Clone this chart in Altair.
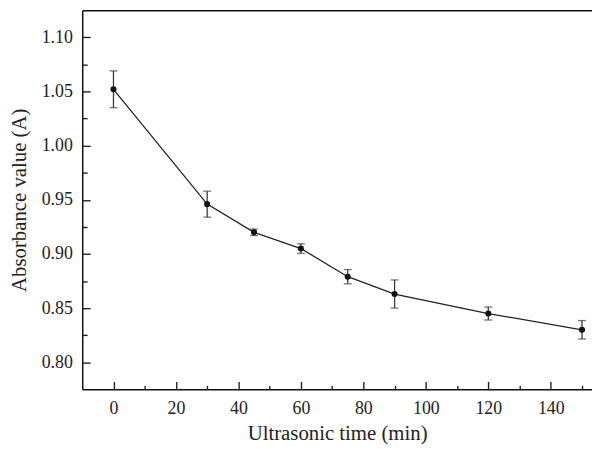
import altair as alt
import pandas as pd

# Data
times = [0, 30, 45, 60, 75, 90, 120, 150]
absorbance = [1.052, 0.946, 0.920, 0.905, 0.879, 0.863, 0.845, 0.830]
errors = [0.017, 0.012, 0.003, 0.0044, 0.0066, 0.013, 0.006, 0.0085]

x_major = [0, 20, 40, 60, 80, 100, 120, 140]
x_minor = [10, 30, 50, 70, 90, 110, 130, 150]
y_major = [0.80, 0.85, 0.90, 0.95, 1.00, 1.05, 1.10]
y_minor = [0.825, 0.875, 0.925, 0.975, 1.025, 1.075]

x_domain = [-10, 153.2]
y_domain = [0.775, 1.125]

df = pd.DataFrame({
    "t": times,
    "a": absorbance,
    "lo": [v - e for v, e in zip(absorbance, errors)],
    "hi": [v + e for v, e in zip(absorbance, errors)],
})

FONT = "Times New Roman"
xs = alt.Scale(domain=x_domain, nice=False, zero=False)
ys = alt.Scale(domain=y_domain, nice=False, zero=False)

base = alt.Chart(df)

# main axes (labels, titles, frame lines)
line = base.mark_line(color="#222", strokeWidth=1.3).encode(
    x=alt.X("t:Q", scale=xs, axis=alt.Axis(
        orient="bottom", values=x_major, format="d", ticks=False, domain=True,
        domainColor="#111", domainWidth=1.5, grid=False,
        labelFont=FONT, labelFontSize=18, labelColor="#222", labelPadding=10,
        title="Ultrasonic time (min)", titleFont=FONT, titleFontSize=21,
        titleFontWeight="normal", titleColor="#222", titlePadding=6)),
    y=alt.Y("a:Q", scale=ys, axis=alt.Axis(
        orient="left", values=y_major, format=".2f", ticks=False, domain=True,
        domainColor="#111", domainWidth=1.5, grid=False,
        labelFont=FONT, labelFontSize=18, labelColor="#222", labelPadding=10,
        title="Absorbance value (A)", titleFont=FONT, titleFontSize=21,
        titleFontWeight="normal", titleColor="#222", titlePadding=12)),
)

errbars = base.mark_errorbar(
    color="#3a3a3a", thickness=1.3,
    ticks={"size": 8, "thickness": 1.3, "color": "#3a3a3a"},
).encode(
    x=alt.X("t:Q", scale=xs, axis=None),
    y=alt.Y("lo:Q", scale=ys, axis=None),
    y2="hi:Q",
)

points = base.mark_point(filled=True, size=38, color="#111", opacity=1).encode(
    x=alt.X("t:Q", scale=xs, axis=None),
    y=alt.Y("a:Q", scale=ys, axis=None),
)

# inward ticks: axes shifted inside the plot by their own tick length
def tick_axis_layer(channel, values, size, orient):
    ax = alt.Axis(orient=orient, values=values, ticks=True, tickSize=size,
                  tickColor="#222", tickWidth=1.4, labels=False, domain=False,
                  grid=False, title=None, offset=-size)
    if channel == "x":
        enc = dict(x=alt.X("t:Q", scale=xs, axis=ax),
                   y=alt.Y("a:Q", scale=ys, axis=None))
    else:
        enc = dict(x=alt.X("t:Q", scale=xs, axis=None),
                   y=alt.Y("a:Q", scale=ys, axis=ax))
    return base.mark_point(opacity=0).encode(**enc)

top_border = base.mark_point(opacity=0).encode(
    x=alt.X("t:Q", scale=xs, axis=alt.Axis(
        orient="top", ticks=False, labels=False, domain=True,
        domainColor="#111", domainWidth=1.5, grid=False, title=None)),
    y=alt.Y("a:Q", scale=ys, axis=None),
)

chart = alt.layer(
    line,
    errbars,
    points,
    tick_axis_layer("x", x_major, 8, "bottom"),
    tick_axis_layer("x", x_minor, 4, "bottom"),
    tick_axis_layer("y", y_major, 8, "left"),
    tick_axis_layer("y", y_minor, 5, "left"),
    top_border,
).resolve_axis(
    x="independent", y="independent"
).properties(
    width=515, height=383,
    autosize=alt.AutoSizeParams(type="none"),
    padding={"left": 75, "top": 0, "right": 0, "bottom": 58},
).configure_view(stroke=None)

chart.save("out.html", embed_options={"renderer": "svg", "actions": False})
